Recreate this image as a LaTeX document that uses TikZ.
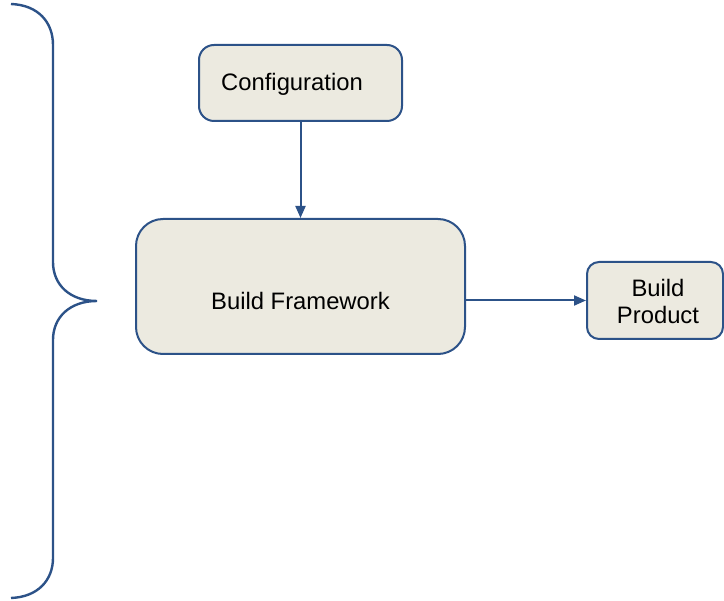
\documentclass[tikz,border=0pt]{standalone}
\usepackage{fontspec}
\setmainfont{Liberation Sans}
\usetikzlibrary{arrows.meta}
\definecolor{edge}{RGB}{44,82,136}
\definecolor{boxfill}{RGB}{236,234,224}
\tikzset{
  stepbox/.style={draw=edge, fill=boxfill, line width=2pt, inner sep=0pt},
  lbl/.style={font=\fontsize{23.8}{27}\selectfont, text=black, align=center, inner sep=0pt},
  conn/.style={draw=edge, line width=2pt, -{Triangle[length=12pt,width=10pt]}},
}
\begin{document}
\begin{tikzpicture}[x=1pt,y=-1pt]
\useasboundingbox (0,0) rectangle (724,601);
% brace
\draw[edge, line width=2.4pt] (11,4) .. controls (38,5) and (53,22) .. (53,45)
  -- (53,262) .. controls (53,285) and (70,301) .. (97,301)
  .. controls (70,301) and (53,317) .. (53,340)
  -- (53,558) .. controls (53,580) and (38,597) .. (11,598);
% boxes
\node[stepbox, rounded corners=15pt, minimum width=203pt, minimum height=76pt] (config) at (300.5,83) {};
\node[lbl] (configtxt) at (292,84) {Configuration};
\node[stepbox, rounded corners=27pt, minimum width=329pt, minimum height=135pt] (frame) at (300.5,286.5) {};
\node[lbl] (frametxt) at (300.5,301) {Build Framework};
\node[stepbox, rounded corners=12pt, minimum width=136pt, minimum height=77pt] (product) at (655,300.5) {};
\node[lbl] (producttxt) at (658,301) {Build\\Product};
% connectors
\draw[conn] (config.south) -- (frame.north);
\draw[conn] (product.west -| frame.east) -- (product.west);
\end{tikzpicture}
\end{document}
